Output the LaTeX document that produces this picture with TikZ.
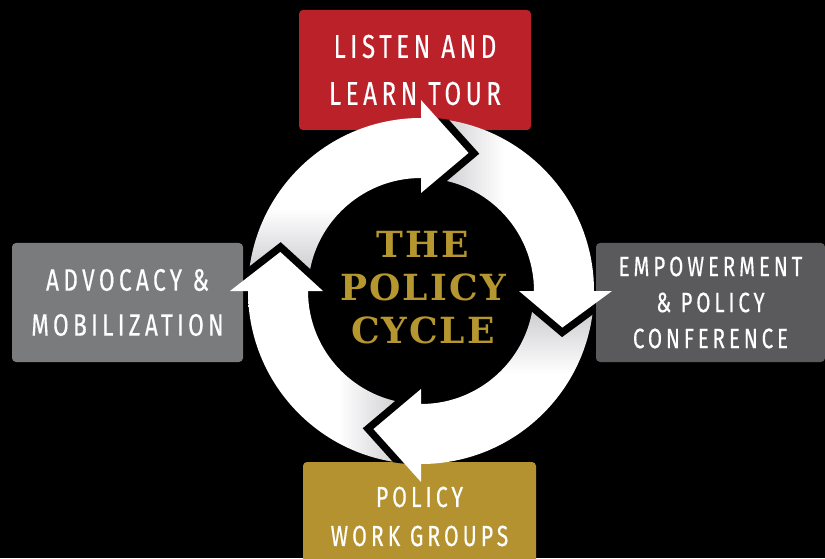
\documentclass[tikz,border=0pt]{standalone}
\usepackage{fontspec}
\newfontfamily\boxfont[FakeStretch=0.73,LetterSpace=14,FakeBold=0.4]{Fira Sans}
\newfontfamily\titlefont[LetterSpace=6]{DejaVu Serif}
\definecolor{boxred}{HTML}{BA2129}
\definecolor{boxgold}{HTML}{B3922F}
\definecolor{boxgrey}{HTML}{7A7B7D}
\definecolor{boxdark}{HTML}{5A5A5C}
\definecolor{titlegold}{HTML}{B5962F}
\definecolor{tailgray}{HTML}{BEBEC3}
\pgfdeclarehorizontalshading{tailshade}{100bp}{color(0bp)=(tailgray); color(25bp)=(tailgray); color(49bp)=(white); color(100bp)=(white)}
\tikzset{
  box/.style={rounded corners=4pt, text=white, align=center, inner sep=0pt},
  halo/.style={draw=black, line width=15pt, line join=miter},
  headfill/.style={fill=white},
  bodyshade/.style={shading=tailshade},
}
\begin{document}
\begin{tikzpicture}[x=1pt,y=1pt]
\useasboundingbox (0,0) rectangle (825,558);
\fill[black] (0,0) rectangle (825,558);
% boxes
\node[box, fill=boxred, minimum width=232pt, minimum height=120pt,
      font={\boxfont\fontsize{33pt}{47pt}\selectfont}] (listen) at (415,488) {LISTEN AND\\LEARN TOUR};
\node[box, fill=boxgrey, minimum width=231pt, minimum height=119pt,
      font={\boxfont\fontsize{31pt}{45pt}\selectfont}] (advocacy) at (127.5,255.5) {ADVOCACY \&\\MOBILIZATION};
\node[box, fill=boxdark, minimum width=229pt, minimum height=119pt,
      font={\boxfont\fontsize{28pt}{36pt}\selectfont}] (empower) at (710.5,255.5) {EMPOWERMENT\\\& POLICY\\CONFERENCE};
\node[box, fill=boxgold, minimum width=233pt, minimum height=109pt,
      font={\boxfont\fontsize{29pt}{39pt}\selectfont}] (groups) at (419.5,41.5) {POLICY\\WORK GROUPS};
% ring
\begin{scope}[shift={(421,267)}]
  \path[bodyshade, shading angle=0]
    (0:173) arc[start angle=0,end angle=90,radius=173pt] -- (90:113) arc[start angle=90,end angle=0,radius=113pt] -- cycle;
  \path[bodyshade, shading angle=90]
    (90:173) arc[start angle=90,end angle=180,radius=173pt] -- (180:113) arc[start angle=180,end angle=90,radius=113pt] -- cycle;
  \path[bodyshade, shading angle=180]
    (180:173) arc[start angle=180,end angle=270,radius=173pt] -- (270:113) arc[start angle=270,end angle=180,radius=113pt] -- cycle;
  \path[bodyshade, shading angle=270]
    (270:173) arc[start angle=270,end angle=360,radius=173pt] -- (0:113) arc[start angle=360,end angle=270,radius=113pt] -- cycle;
  \begin{scope}
    \clip (0,0) circle[radius=173.5pt];
    \foreach \b/\t in {90/71, 0/-14.5, 270/251, 180/164.5}
      \path[halo] (\b:191) -- (\t:146) -- (\b:98);
  \end{scope}
  \foreach \b/\t in {90/71, 0/-14.5, 270/251, 180/164.5}
    \path[headfill] (\b:191) -- (\t:146) -- (\b:98) -- cycle;
\end{scope}
\node[text=titlegold, align=center, inner sep=0pt,
      font={\titlefont\bfseries\fontsize{36pt}{43pt}\selectfont}] (title) at (423,270) {THE\\POLICY\\CYCLE};
\end{tikzpicture}
\end{document}
